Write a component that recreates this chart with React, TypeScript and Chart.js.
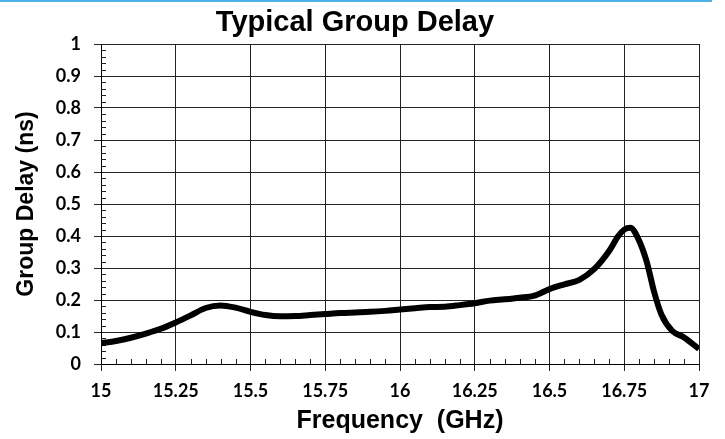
import React, { useEffect, useRef } from "react";
import { Chart, registerables } from "chart.js";

Chart.register(...registerables);

const frequencies = [
  15, 15.05, 15.1, 15.15, 15.2, 15.25, 15.3, 15.35, 15.4, 15.45, 15.5, 15.55, 15.6, 15.65, 15.7,
  15.75, 15.8, 15.85, 15.9, 15.95, 16, 16.05, 16.1, 16.15, 16.2, 16.25, 16.3, 16.35, 16.4, 16.45,
  16.5, 16.55, 16.6, 16.65, 16.7, 16.73, 16.75, 16.77, 16.795, 16.825, 16.85, 16.875, 16.91, 16.95, 17,
];
const groupDelay = [
  0.065, 0.072, 0.082, 0.095, 0.11, 0.13, 0.152, 0.175, 0.183, 0.176, 0.163, 0.153, 0.149, 0.15, 0.153,
  0.156, 0.159, 0.161, 0.163, 0.166, 0.17, 0.174, 0.178, 0.179, 0.184, 0.19, 0.198, 0.202, 0.207, 0.214,
  0.234, 0.249, 0.263, 0.297, 0.354, 0.4, 0.42, 0.426, 0.395, 0.32, 0.225, 0.153, 0.104, 0.083, 0.047,
];
const xTickLabels = ["15", "15.25", "15.5", "15.75", "16", "16.25", "16.5", "16.75", "17"];
const yTickLabels = ["0", "0.1", "0.2", "0.3", "0.4", "0.5", "0.6", "0.7", "0.8", "0.9", "1"];

const chartTitle = "Typical Group Delay";
const xTitle = "Frequency  (GHz)";
const yTitle = "Group Delay (ns)";

const TICK_FONT = "Lato, 'Open Sans', sans-serif";
const TITLE_FONT = "'Liberation Sans', Arial, sans-serif";

const titlePlugin = {
  id: "customTitle",
  afterDraw(chart: any) {
    const ctx = chart.ctx;
    ctx.save();
    ctx.font = `bold 29px ${TITLE_FONT}`;
    ctx.fillStyle = "#000";
    ctx.textAlign = "center";
    ctx.textBaseline = "alphabetic";
    ctx.fillText(chartTitle, 355, 31);
    ctx.restore();
  },
};

const minorTicksPlugin = {
  id: "minorTicks",
  beforeDatasetsDraw(chart: any) {
    const { ctx, chartArea, scales } = chart;
    const x = scales.x;
    const y = scales.y;
    ctx.save();
    ctx.strokeStyle = "#222";
    ctx.lineWidth = 1;
    ctx.beginPath();
    for (let i = 0; i <= 40; i++) {
      if (i % 5 === 0) continue;
      const v = 15 + i * 0.05;
      const px = Math.round(x.getPixelForValue(v)) + 0.5;
      ctx.moveTo(px, chartArea.bottom);
      ctx.lineTo(px, chartArea.bottom - 5);
    }
    for (let i = 0; i <= 50; i++) {
      if (i % 5 === 0) continue;
      const v = i * 0.02;
      const py = Math.round(y.getPixelForValue(v)) + 0.5;
      ctx.moveTo(chartArea.left, py);
      ctx.lineTo(chartArea.left + 5, py);
    }
    ctx.stroke();
    ctx.restore();
  },
};

export default function App() {
  const canvasRef = useRef<HTMLCanvasElement | null>(null);

  useEffect(() => {
    if (!canvasRef.current) return;
    const chart = new Chart(canvasRef.current, {
      type: "line",
      data: {
        datasets: [
          {
            data: frequencies.map((f, i) => ({ x: f, y: groupDelay[i] })),
            borderColor: "#000",
            borderWidth: 6,
            pointRadius: 0,
            fill: false,
            tension: 0.3,
            cubicInterpolationMode: "monotone",
            borderCapStyle: "butt",
            borderJoinStyle: "round",
          },
        ],
      },
      options: {
        animation: false,
        responsive: false,
        layout: { padding: { top: 44, right: 26, left: 0, bottom: 0 } },
        plugins: {
          legend: { display: false },
          title: { display: false },
          tooltip: { enabled: false },
        },
        scales: {
          x: {
            type: "linear",
            min: 15,
            max: 17,
            afterBuildTicks: (scale: any) => {
              scale.ticks = xTickLabels.map((t) => ({ value: parseFloat(t) }));
            },
            afterFit: (scale: any) => {
              scale.height = 75;
            },
            ticks: {
              autoSkip: false,
              maxRotation: 0,
              padding: 9,
              color: "#000",
              font: { family: TICK_FONT, size: 18, weight: "bold" },
              callback: (v: any) => {
                const idx = xTickLabels.findIndex((t) => Math.abs(parseFloat(t) - v) < 1e-6);
                return idx >= 0 ? xTickLabels[idx] : "";
              },
            },
            grid: { color: "#222", lineWidth: 1, tickLength: 7, drawTicks: true },
            border: { display: true, color: "#000", width: 1 },
            title: {
              display: true,
              text: xTitle,
              color: "#000",
              font: { family: TITLE_FONT, size: 25, weight: "bold" },
              padding: { top: 0, bottom: 3 },
            },
          },
          y: {
            type: "linear",
            min: 0,
            max: 1,
            afterBuildTicks: (scale: any) => {
              scale.ticks = yTickLabels.map((t) => ({ value: parseFloat(t) }));
            },
            afterFit: (scale: any) => {
              scale.width = 101;
            },
            ticks: {
              autoSkip: false,
              padding: 13,
              color: "#000",
              font: { family: TICK_FONT, size: 18, weight: "bold" },
              callback: (v: any) => {
                const idx = yTickLabels.findIndex((t) => Math.abs(parseFloat(t) - v) < 1e-6);
                return idx >= 0 ? yTickLabels[idx] : "";
              },
            },
            grid: { color: "#222", lineWidth: 1, tickLength: 7, drawTicks: true },
            border: { display: true, color: "#000", width: 1 },
            title: {
              display: true,
              text: yTitle,
              color: "#000",
              font: { family: TITLE_FONT, size: 23, weight: "bold" },
              padding: { top: 13, bottom: 0 },
            },
          },
        },
      },
      plugins: [minorTicksPlugin, titlePlugin],
    });
    if ((document as any).fonts && (document as any).fonts.load) {
      Promise.all([
        (document as any).fonts.load(`bold 18px Lato`),
        (document as any).fonts.load(`bold 25px 'Liberation Sans'`),
      ])
        .then(() => chart.update())
        .catch(() => {});
    }
    return () => chart.destroy();
  }, []);

  return (
    <div style={{ position: "absolute", left: 0, top: 0, width: 725, height: 439, background: "#fff" }}>
      <canvas ref={canvasRef} width={725} height={439} style={{ display: "block" }} />
      <div style={{ position: "absolute", left: 0, top: 0, width: 712, height: 2, background: "#4DB0E6" }} />
    </div>
  );
}
